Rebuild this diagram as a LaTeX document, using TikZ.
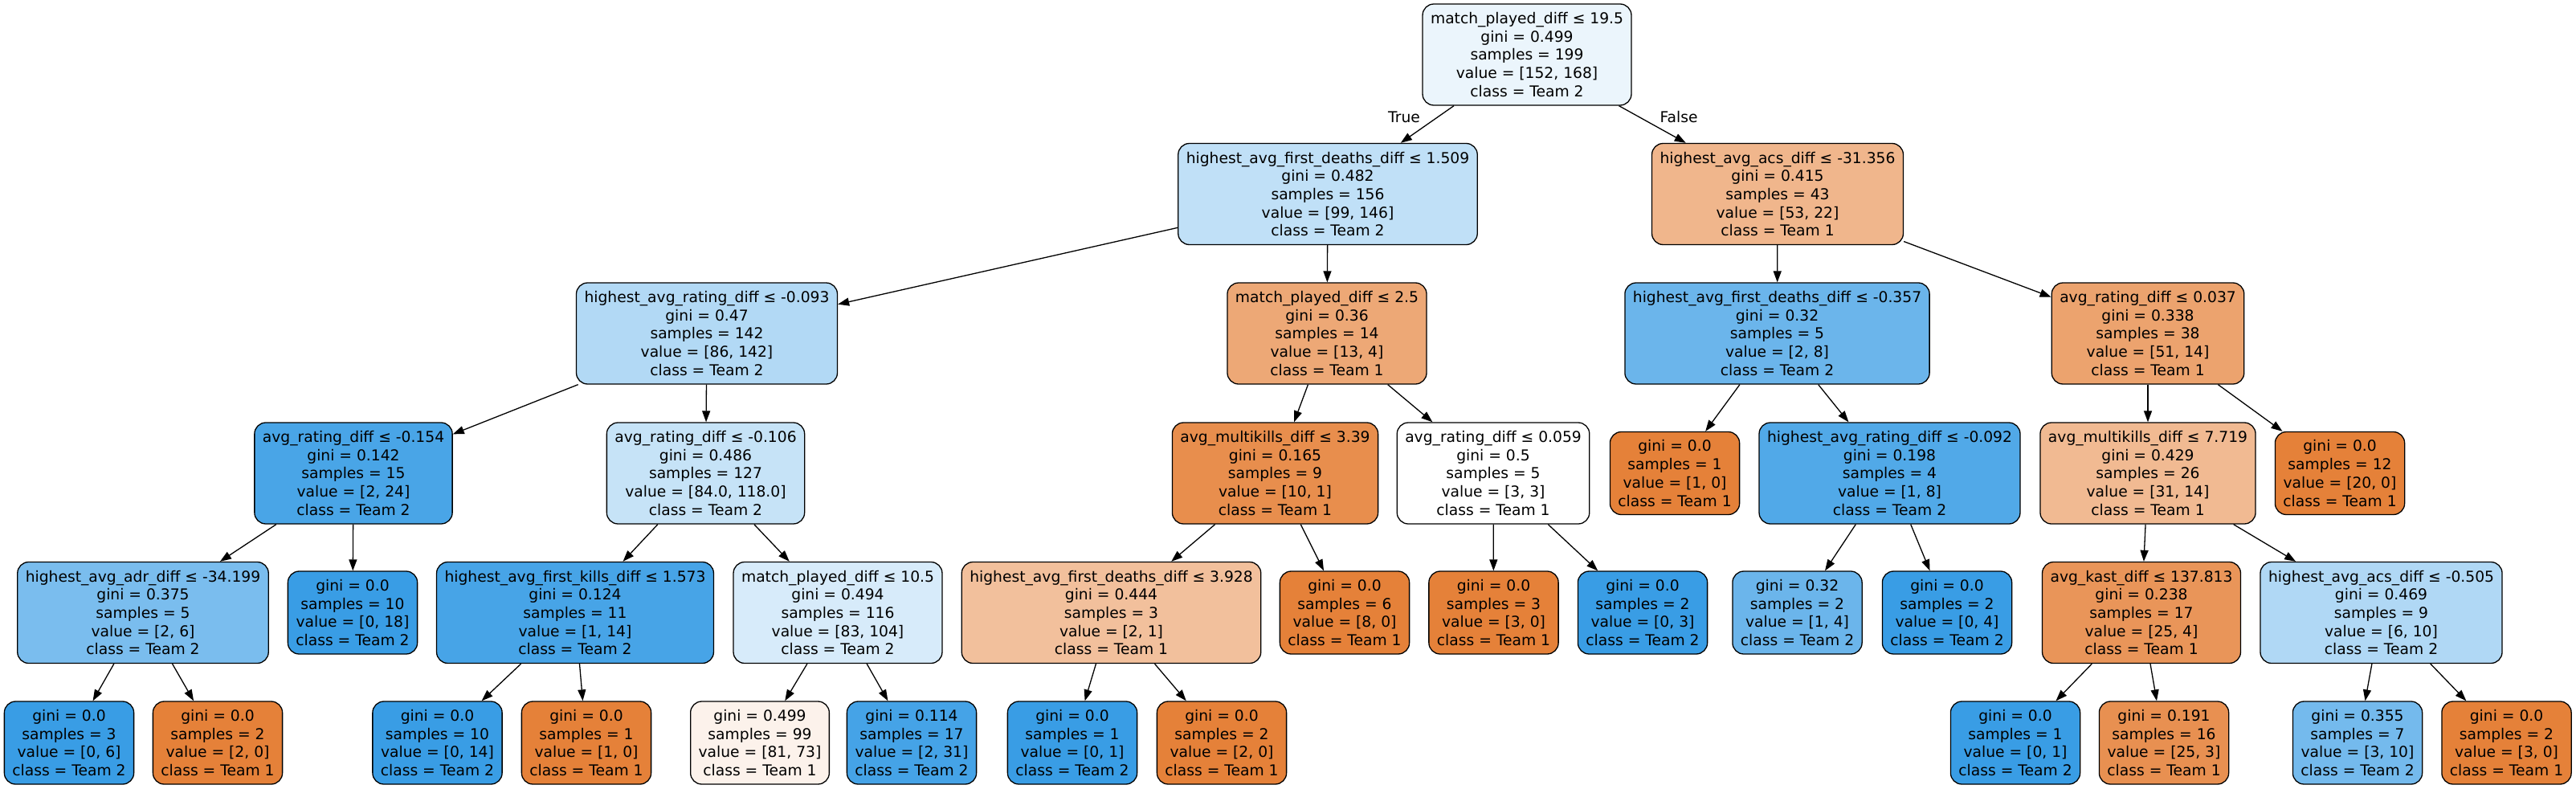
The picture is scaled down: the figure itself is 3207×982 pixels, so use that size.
\documentclass[tikz,border=0pt]{standalone}
\usepackage{fontspec}
\newfontfamily\treefont{DejaVu Sans}
\usetikzlibrary{arrows.meta}
\definecolor{teamone}{RGB}{229,129,57}
\definecolor{teamtwo}{RGB}{57,157,229}
\tikzset{
  split/.style={draw=black, line width=1.3pt, rounded corners=14pt, align=center,
    font=\treefont\fontsize{18.7}{22.7}\selectfont,
    minimum height=126pt, inner xsep=10pt, inner ysep=0pt},
  leaf/.style={split, minimum height=103pt},
  link/.style={-{Triangle[length=14pt,width=10pt]}, line width=1.3pt, black},
  branch/.style={font=\treefont\fontsize{18.7}{22.7}\selectfont}
}
\begin{document}
\begin{tikzpicture}[x=1pt, y=-1pt]
\useasboundingbox (0,0) rectangle (3207,982);

% depth 0 and 1
\node[split, fill=teamtwo!10!white] (n0) at (1901,68) {match\_played\_diff ≤ 19.5\\gini = 0.499\\samples = 199\\value = [152, 168]\\class = Team 2};
\node[split, fill=teamtwo!32!white] (n1) at (1653,241.5) {highest\_avg\_first\_deaths\_diff ≤ 1.509\\gini = 0.482\\samples = 156\\value = [99, 146]\\class = Team 2};
\node[split, fill=teamone!58!white] (n24) at (2213,241.5) {highest\_avg\_acs\_diff ≤ -31.356\\gini = 0.415\\samples = 43\\value = [53, 22]\\class = Team 1};

% depth 2
\node[split, fill=teamtwo!39!white] (n2) at (880,415) {highest\_avg\_rating\_diff ≤ -0.093\\gini = 0.47\\samples = 142\\value = [86, 142]\\class = Team 2};
\node[split, fill=teamone!69!white] (n15) at (1652,415) {match\_played\_diff ≤ 2.5\\gini = 0.36\\samples = 14\\value = [13, 4]\\class = Team 1};
\node[split, fill=teamtwo!75!white] (n25) at (2212.5,415) {highest\_avg\_first\_deaths\_diff ≤ -0.357\\gini = 0.32\\samples = 5\\value = [2, 8]\\class = Team 2};
\node[split, fill=teamone!73!white] (n30) at (2674,415) {avg\_rating\_diff ≤ 0.037\\gini = 0.338\\samples = 38\\value = [51, 14]\\class = Team 1};

% depth 3
\node[split, fill=teamtwo!92!white] (n3) at (440,589) {avg\_rating\_diff ≤ -0.154\\gini = 0.142\\samples = 15\\value = [2, 24]\\class = Team 2};
\node[split, fill=teamtwo!29!white] (n8) at (878.5,589) {avg\_rating\_diff ≤ -0.106\\gini = 0.486\\samples = 127\\value = [84.0, 118.0]\\class = Team 2};
\node[split, fill=teamone!90!white] (n16) at (1587.5,589) {avg\_multikills\_diff ≤ 3.39\\gini = 0.165\\samples = 9\\value = [10, 1]\\class = Team 1};
\node[split, fill=white] (n21) at (1859,589) {avg\_rating\_diff ≤ 0.059\\gini = 0.5\\samples = 5\\value = [3, 3]\\class = Team 1};
\node[leaf, fill=teamone] (n26) at (2085,589) {gini = 0.0\\samples = 1\\value = [1, 0]\\class = Team 1};
\node[split, fill=teamtwo!88!white] (n27) at (2352.5,589) {highest\_avg\_rating\_diff ≤ -0.092\\gini = 0.198\\samples = 4\\value = [1, 8]\\class = Team 2};
\node[split, fill=teamone!55!white] (n31) at (2674,589) {avg\_multikills\_diff ≤ 7.719\\gini = 0.429\\samples = 26\\value = [31, 14]\\class = Team 1};
\node[leaf, fill=teamone] (n38) at (2913,589) {gini = 0.0\\samples = 12\\value = [20, 0]\\class = Team 1};

% depth 4
\node[split, fill=teamtwo!67!white] (n4) at (178,762.5) {highest\_avg\_adr\_diff ≤ -34.199\\gini = 0.375\\samples = 5\\value = [2, 6]\\class = Team 2};
\node[leaf, fill=teamtwo] (n7) at (439,762.5) {gini = 0.0\\samples = 10\\value = [0, 18]\\class = Team 2};
\node[split, fill=teamtwo!93!white] (n9) at (716,762.5) {highest\_avg\_first\_kills\_diff ≤ 1.573\\gini = 0.124\\samples = 11\\value = [1, 14]\\class = Team 2};
\node[split, fill=teamtwo!20!white] (n12) at (1043,762.5) {match\_played\_diff ≤ 10.5\\gini = 0.494\\samples = 116\\value = [83, 104]\\class = Team 2};
\node[split, fill=teamone!50!white] (n17) at (1383.5,762.5) {highest\_avg\_first\_deaths\_diff ≤ 3.928\\gini = 0.444\\samples = 3\\value = [2, 1]\\class = Team 1};
\node[leaf, fill=teamone] (n20) at (1674,762.5) {gini = 0.0\\samples = 6\\value = [8, 0]\\class = Team 1};
\node[leaf, fill=teamone] (n22) at (1859.5,762.5) {gini = 0.0\\samples = 3\\value = [3, 0]\\class = Team 1};
\node[leaf, fill=teamtwo] (n23) at (2045,762.5) {gini = 0.0\\samples = 2\\value = [0, 3]\\class = Team 2};
\node[leaf, fill=teamtwo!75!white] (n28) at (2237.5,762.5) {gini = 0.32\\samples = 2\\value = [1, 4]\\class = Team 2};
\node[leaf, fill=teamtwo] (n29) at (2424,762.5) {gini = 0.0\\samples = 2\\value = [0, 4]\\class = Team 2};
\node[split, fill=teamone!84!white] (n32) at (2666,762.5) {avg\_kast\_diff ≤ 137.813\\gini = 0.238\\samples = 17\\value = [25, 4]\\class = Team 1};
\node[split, fill=teamtwo!40!white] (n35) at (2964.5,762.5) {highest\_avg\_acs\_diff ≤ -0.505\\gini = 0.469\\samples = 9\\value = [6, 10]\\class = Team 2};

% depth 5
\node[leaf, fill=teamtwo] (n5) at (86,924.5) {gini = 0.0\\samples = 3\\value = [0, 6]\\class = Team 2};
\node[leaf, fill=teamone] (n6) at (271,924.5) {gini = 0.0\\samples = 2\\value = [2, 0]\\class = Team 1};
\node[leaf, fill=teamtwo] (n10) at (544.5,924.5) {gini = 0.0\\samples = 10\\value = [0, 14]\\class = Team 2};
\node[leaf, fill=teamone] (n11) at (730,924.5) {gini = 0.0\\samples = 1\\value = [1, 0]\\class = Team 1};
\node[leaf, fill=teamone!10!white] (n13) at (946,924.5) {gini = 0.499\\samples = 99\\value = [81, 73]\\class = Team 1};
\node[leaf, fill=teamtwo!94!white] (n14) at (1135,924.5) {gini = 0.114\\samples = 17\\value = [2, 31]\\class = Team 2};
\node[leaf, fill=teamtwo] (n18) at (1335,924.5) {gini = 0.0\\samples = 1\\value = [0, 1]\\class = Team 2};
\node[leaf, fill=teamone] (n19) at (1521,924.5) {gini = 0.0\\samples = 2\\value = [2, 0]\\class = Team 1};
\node[leaf, fill=teamtwo] (n33) at (2509,924.5) {gini = 0.0\\samples = 1\\value = [0, 1]\\class = Team 2};
\node[leaf, fill=teamone!88!white] (n34) at (2694,924.5) {gini = 0.191\\samples = 16\\value = [25, 3]\\class = Team 1};
\node[leaf, fill=teamtwo!70!white] (n36) at (2935,924.5) {gini = 0.355\\samples = 7\\value = [3, 10]\\class = Team 2};
\node[leaf, fill=teamone] (n37) at (3120.5,924.5) {gini = 0.0\\samples = 2\\value = [3, 0]\\class = Team 1};

% branch labels
\node[branch] (yes) at (1748,146) {True};
\node[branch] (no) at (2090,146) {False};

% connectors
\foreach \a/\b in {n0/n1, n0/n24, n1/n2, n1/n15, n2/n3, n2/n8, n3/n4, n3/n7,
  n4/n5, n4/n6, n8/n9, n8/n12, n9/n10, n9/n11, n12/n13, n12/n14,
  n15/n16, n15/n21, n16/n17, n16/n20, n17/n18, n17/n19, n21/n22, n21/n23,
  n24/n25, n24/n30, n25/n26, n25/n27, n27/n28, n27/n29, n30/n31, n30/n38,
  n31/n32, n31/n35, n32/n33, n32/n34, n35/n36, n35/n37}
  \draw[link] (\a) -- (\b);
\end{tikzpicture}
\end{document}
